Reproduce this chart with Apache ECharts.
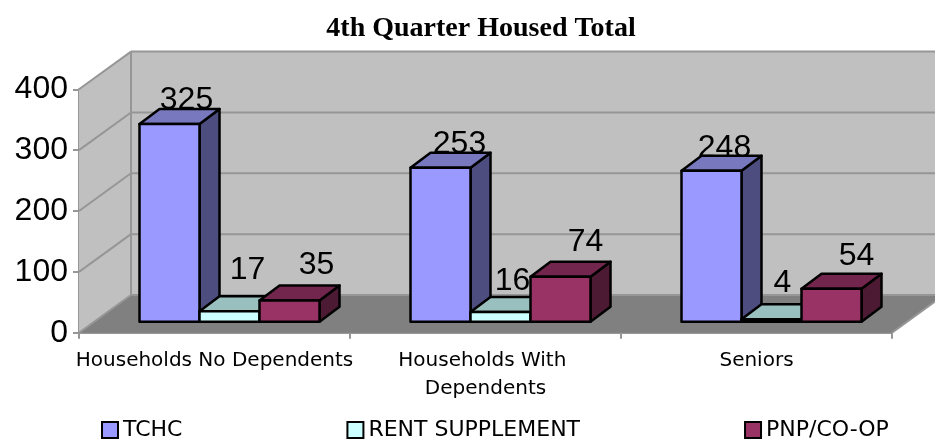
<!DOCTYPE html>
<html><head><meta charset="utf-8">
<style>html,body{margin:0;padding:0;background:#fff}#c{width:935px;height:441px}</style>
<script src="https://cdn.jsdelivr.net/npm/echarts@6/dist/echarts.min.js"></script>
</head><body><div id="c"></div>
<script>
const categories = ["Households No Dependents", "Households With Dependents", "Seniors"];
const tchc = [325, 253, 248];
const rentSupplement = [17, 16, 4];
const pnpCoop = [35, 74, 54];
const yTicks = [0, 100, 200, 300, 400];

// 3D projection constants (pixels)
const WALL = [52, -37.7];
const BAR_FRONT = [15, -11];
const BAR_DEPTH = [20, -15];
const BAR_W = 60;
const GROUP_W = 180;

const wallColor = '#C0C0C0', floorColor = '#808080', gridColor = '#969696';
const uiFont = '"DejaVu Sans"';
const numFont = '"Liberation Sans"';

function poly(points, fill, stroke, lw) {
  return { type: 'polygon', shape: { points }, silent: true,
    style: { fill, stroke: stroke || null, lineWidth: lw || 0, lineJoin: 'round' } };
}
function line(a, b) {
  return { type: 'line', silent: true, shape: { x1: a[0], y1: a[1], x2: b[0], y2: b[1] },
    style: { stroke: gridColor, lineWidth: 2 } };
}
function renderWalls(params, api) {
  const cs = params.coordSys;
  const l = cs.x, r = cs.x + cs.width;
  const y0 = api.coord([0, 0])[1], yT = api.coord([0, 400])[1];
  const dx = WALL[0], dy = WALL[1];
  const kids = [
    poly([[l + dx, yT + dy], [r + dx, yT + dy], [r + dx, y0 + dy], [l + dx, y0 + dy]], wallColor),
    poly([[l, yT], [l + dx, yT + dy], [l + dx, y0 + dy], [l, y0]], wallColor),
    poly([[l, y0], [l + dx, y0 + dy], [r + dx, y0 + dy], [r, y0]], floorColor)
  ];
  yTicks.forEach(t => {
    const y = api.coord([0, t])[1];
    if (t > 0) {
      kids.push(line([l, y], [l + dx, y + dy]));
      kids.push(line([l + dx, y + dy], [r + dx, y + dy]));
    }
  });
  kids.push(line([l + dx, yT + dy], [l + dx, y0 + dy]));
  kids.push(line([l + dx, y0 + dy], [r + dx, y0 + dy]));
  kids.push(line([l, y0], [l + dx, y0 + dy]));
  kids.push(line([r, y0], [r + dx, y0 + dy]));
  return { type: 'group', children: kids };
}
function barRenderer(idx, cols, labelOffs) {
  return function (params, api) {
    const cat = api.value(0), val = api.value(1);
    const c = api.coord([cat, val]), b = api.coord([cat, 0]);
    const x0 = c[0] + BAR_FRONT[0] - GROUP_W / 2 + idx * BAR_W;
    const x1 = x0 + BAR_W;
    const yb = b[1] + BAR_FRONT[1], yt = c[1] + BAR_FRONT[1];
    const dx = BAR_DEPTH[0], dy = BAR_DEPTH[1];
    const off = labelOffs[params.dataIndex];
    return { type: 'group', children: [
      { type: 'text', silent: true, style: {
          text: String(val), x: (x0 + x1) / 2 + off[0], y: yt + dy + off[1],
          align: 'center', verticalAlign: 'bottom',
          font: '32px ' + numFont, fill: '#000' } },
      poly([[x1, yb], [x1 + dx, yb + dy], [x1 + dx, yt + dy], [x1, yt]], cols[2], '#000', 2.5),
      poly([[x0, yt], [x0 + dx, yt + dy], [x1 + dx, yt + dy], [x1, yt]], cols[1], '#000', 2.5),
      poly([[x0, yb], [x1, yb], [x1, yt], [x0, yt]], cols[0], '#000', 2.5)
    ]};
  };
}
const rows = vals => vals.map((v, i) => [i, v]);

const chart = echarts.init(document.getElementById('c'), null, { renderer: 'canvas' });
chart.setOption({
  animation: false,
  backgroundColor: '#fff',
  title: { text: '4th Quarter Housed Total', left: 476, top: 10, textAlign: 'center',
    textStyle: { fontFamily: '"Liberation Serif"', fontWeight: 'bold', fontSize: 28, color: '#000' } },
  grid: { left: 79, right: 43, top: 89.3, height: 243.4 },
  xAxis: { type: 'category', data: categories,
    axisLine: { lineStyle: { color: gridColor, width: 2 } },
    axisTick: { show: true, length: 6, lineStyle: { color: gridColor, width: 2 } },
    axisLabel: { interval: 0, margin: 14, width: 285, overflow: 'break', lineHeight: 28,
      fontFamily: uiFont, fontSize: 20, color: '#000' } },
  yAxis: { type: 'value', min: 0, max: 400, interval: 100,
    splitLine: { show: false },
    axisLine: { show: true, lineStyle: { color: gridColor, width: 2 } },
    axisTick: { show: true, length: 6, lineStyle: { color: gridColor, width: 2 } },
    axisLabel: { margin: 11, fontFamily: numFont, fontSize: 32, color: '#000' } },
  legend: { left: 101, top: 419, padding: 0, itemWidth: 16, itemHeight: 16, itemGap: 164, selectedMode: false,
    icon: 'rect',
    data: ['TCHC', 'RENT SUPPLEMENT', 'PNP/CO-OP'],
    textStyle: { fontFamily: uiFont, fontSize: 22, color: '#000' } },
  series: [
    { type: 'custom', silent: true, clip: false, z: 1, data: [[0, 0]], renderItem: renderWalls,
      encode: { x: 0, y: 1 } },
    { name: 'TCHC', type: 'custom', z: 2, clip: false, data: rows(tchc), encode: { x: 0, y: 1 },
      itemStyle: { color: '#9999FF', borderColor: '#000', borderWidth: 2 },
      renderItem: barRenderer(0, ['#9999FF', '#7878BF', '#4D4D80'], [[17, 7], [19, 7], [13, 8]]) },
    { name: 'RENT SUPPLEMENT', type: 'custom', z: 3, clip: false, data: rows(rentSupplement), encode: { x: 0, y: 1 },
      itemStyle: { color: '#CCFFFF', borderColor: '#000', borderWidth: 2 },
      renderItem: barRenderer(1, ['#CCFFFF', '#99BFBF', '#668080'], [[18, -10], [12, 0], [11, -5]]) },
    { name: 'PNP/CO-OP', type: 'custom', z: 4, clip: false, data: rows(pnpCoop), encode: { x: 0, y: 1 },
      itemStyle: { color: '#993366', borderColor: '#000', borderWidth: 2 },
      renderItem: barRenderer(2, ['#993366', '#73264D', '#4D1A33'], [[27, -4], [25, -3], [25, -2]]) }
  ]
});
</script></body></html>
